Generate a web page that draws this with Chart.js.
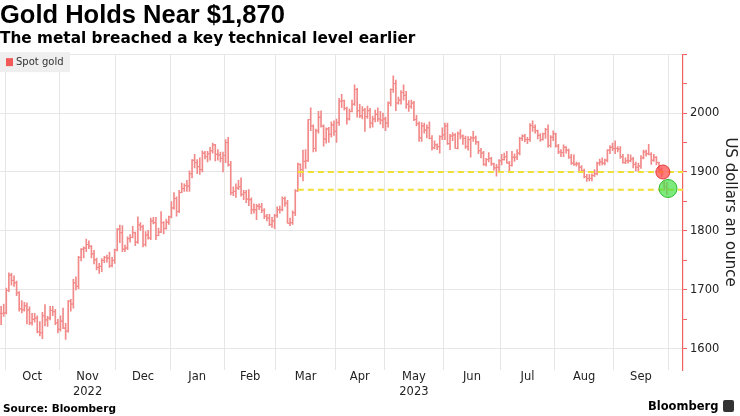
<!DOCTYPE html>
<html>
<head>
<meta charset="utf-8">
<script src="https://cdn.jsdelivr.net/npm/chart.js@4.4.0/dist/chart.umd.min.js"></script>
<style>
  html, body { margin: 0; padding: 0; background: #fff; }
  #wrap { position: relative; width: 740px; height: 416px; }
  #chartBox { position: absolute; left: 0; top: 0; width: 740px; height: 416px; }
  .source { position: absolute; left: 3px; top: 401px; font: bold 10.5px 'DejaVu Sans', sans-serif; line-height: 14px; color: #000; }
  .brand { position: absolute; left: 648px; top: 399px; font: bold 11.5px 'DejaVu Sans', sans-serif; line-height: 14px; color: #000; }
  .brand i { position: absolute; left: 75px; top: 1px; width: 11px; height: 12px; background: #333; border-radius: 2px; }
</style>
</head>
<body>
<div id="wrap">
  <div id="chartBox"><canvas id="goldChart"></canvas></div>
  <div class="source">Source: Bloomberg</div>
  <div class="brand">Bloomberg<i></i></div>
</div>
<script>
// trading days, first bar is 28 Sep 2022 (index -3), 3 Oct 2022 is index 0
const firstIndex = -3;
const seriesName = 'Spot gold';
const monthLabels = ['Oct', 'Nov', 'Dec', 'Jan', 'Feb', 'Mar', 'Apr', 'May', 'Jun', 'Jul', 'Aug', 'Sep'];
const yearLabels  = ['', '2022', '', '', '', '', '', '2023', '', '', '', ''];
const tradingDays = [21, 22, 21, 21, 20, 23, 19, 23, 22, 21, 23, 21];
const yTickValues = [1600, 1650, 1700, 1750, 1800, 1850, 1900, 1950, 2000, 2050, 2100];

const open = [
  1628, 1660, 1660,
  1661, 1699, 1725, 1716, 1712, 1695, 1668, 1666, 1673, 1666, 1644, 1650, 1652, 1629, 1627, 1656, 1649, 1652, 1665, 1663, 1644,
  1633, 1647, 1635, 1630, 1681, 1676, 1712, 1706, 1755, 1769, 1771, 1777, 1774, 1761, 1751, 1738, 1740, 1750, 1755, 1754, 1741, 1750,
  1768, 1803, 1797, 1769, 1771, 1787, 1789, 1797, 1781, 1810, 1807, 1777, 1793, 1788, 1817, 1814, 1792, 1798, 1814, 1804, 1815,
  1824, 1839, 1855, 1833, 1865, 1872, 1877, 1876, 1897, 1920, 1916, 1909, 1904, 1932, 1926, 1931, 1936, 1946, 1930, 1929, 1923,
  1928, 1950, 1912, 1865, 1867, 1873, 1875, 1862, 1865, 1854, 1853, 1836, 1836, 1842, 1841, 1835, 1825, 1822, 1811, 1817,
  1826, 1836, 1836, 1855, 1847, 1813, 1814, 1831, 1868, 1913, 1904, 1918, 1919, 1989, 1978, 1940, 1970, 1993, 1978, 1956, 1973, 1964, 1980,
  1969, 1984, 2020, 2021, 2008, 1990, 2003, 2015, 2040, 2004, 1995, 2005, 1994, 2004, 1983, 1990, 1998, 1990, 1988,
  1990, 1983, 2017, 2040, 2050, 2017, 2022, 2035, 2030, 2015, 2011, 2017, 1989, 1982, 1958, 1978, 1971, 1975, 1957, 1941, 1946, 1943, 1960,
  1963, 1978, 1948, 1961, 1963, 1940, 1965, 1961, 1957, 1943, 1955, 1958, 1958, 1951, 1936, 1932, 1913, 1921, 1923, 1914, 1907, 1908,
  1919, 1921, 1926, 1915, 1911, 1925, 1925, 1932, 1957, 1961, 1955, 1955, 1979, 1976, 1970, 1962, 1955, 1965, 1972, 1945, 1959,
  1965, 1944, 1934, 1933, 1942, 1937, 1925, 1915, 1913, 1914, 1908, 1902, 1892, 1889, 1889, 1894, 1897, 1915, 1917, 1915, 1920, 1937, 1942,
  1940, 1940, 1939, 1926, 1916, 1919, 1919, 1922, 1913, 1908, 1910, 1924, 1934, 1931, 1930, 1920, 1925, 1916, 1903, 1880, 1875
];
const high = [
  1661, 1672, 1676,
  1703, 1729, 1728, 1724, 1715, 1697, 1682, 1679, 1678, 1671, 1660, 1660, 1656, 1646, 1662, 1675, 1655, 1672, 1672, 1667, 1650,
  1656, 1669, 1643, 1682, 1684, 1718, 1722, 1757, 1770, 1773, 1786, 1783, 1775, 1767, 1754, 1745, 1753, 1757, 1759, 1764, 1755, 1769,
  1804, 1810, 1809, 1776, 1790, 1794, 1808, 1798, 1824, 1814, 1810, 1799, 1801, 1822, 1823, 1823, 1805, 1833, 1816, 1820, 1825,
  1850, 1865, 1858, 1869, 1881, 1880, 1886, 1902, 1921, 1930, 1921, 1924, 1936, 1935, 1935, 1942, 1949, 1947, 1938, 1934, 1934,
  1955, 1959, 1918, 1875, 1880, 1886, 1890, 1869, 1869, 1870, 1856, 1846, 1845, 1846, 1847, 1838, 1828, 1828, 1823, 1828,
  1841, 1842, 1858, 1858, 1852, 1822, 1834, 1870, 1915, 1914, 1937, 1938, 1989, 2009, 1980, 1973, 2003, 2004, 1980, 1975, 1976, 1985, 1987,
  1990, 2025, 2032, 2022, 2010, 2007, 2022, 2048, 2042, 2015, 2011, 2008, 2012, 2008, 1995, 2005, 2009, 2003, 2000,
  1993, 2019, 2041, 2063, 2056, 2027, 2038, 2048, 2037, 2021, 2022, 2020, 1996, 1985, 1984, 1983, 1980, 1985, 1962, 1953, 1948, 1962, 1975,
  1983, 1983, 1964, 1967, 1965, 1968, 1972, 1963, 1961, 1960, 1960, 1969, 1961, 1952, 1940, 1935, 1923, 1933, 1925, 1915, 1913, 1921,
  1930, 1932, 1935, 1918, 1935, 1931, 1938, 1959, 1963, 1964, 1959, 1982, 1987, 1980, 1971, 1965, 1966, 1974, 1980, 1962, 1970,
  1966, 1947, 1938, 1946, 1943, 1939, 1930, 1929, 1917, 1916, 1911, 1905, 1896, 1896, 1897, 1904, 1917, 1922, 1924, 1922, 1938, 1945, 1949,
  1953, 1943, 1943, 1930, 1924, 1930, 1929, 1925, 1917, 1915, 1928, 1937, 1937, 1947, 1933, 1930, 1926, 1917, 1907, 1885, 1882
];
const low = [
  1615, 1641, 1655,
  1659, 1697, 1708, 1706, 1690, 1664, 1661, 1664, 1642, 1641, 1640, 1645, 1627, 1622, 1617, 1639, 1638, 1649, 1656, 1641, 1627,
  1630, 1634, 1616, 1628, 1664, 1669, 1700, 1702, 1749, 1754, 1765, 1770, 1754, 1744, 1734, 1728, 1731, 1746, 1747, 1738, 1739, 1745,
  1766, 1780, 1765, 1765, 1768, 1781, 1788, 1775, 1779, 1801, 1773, 1774, 1786, 1785, 1812, 1785, 1792, 1797, 1795, 1803, 1811,
  1822, 1837, 1825, 1831, 1865, 1867, 1867, 1867, 1890, 1907, 1897, 1896, 1900, 1922, 1917, 1920, 1932, 1919, 1920, 1917, 1900,
  1916, 1910, 1861, 1860, 1857, 1870, 1859, 1853, 1848, 1843, 1829, 1830, 1819, 1836, 1831, 1821, 1817, 1809, 1806, 1804,
  1823, 1830, 1834, 1842, 1813, 1809, 1811, 1826, 1867, 1892, 1885, 1906, 1918, 1970, 1934, 1935, 1966, 1976, 1944, 1949, 1950, 1959, 1962,
  1950, 1979, 2009, 2005, 1981, 1988, 2002, 2013, 1993, 1992, 1990, 1969, 1991, 1975, 1976, 1985, 1986, 1981, 1975,
  1970, 1976, 2012, 2035, 2004, 2015, 2015, 2022, 2008, 2003, 2008, 1987, 1978, 1952, 1952, 1966, 1958, 1956, 1937, 1939, 1938, 1932, 1955,
  1955, 1947, 1938, 1953, 1940, 1939, 1956, 1947, 1940, 1937, 1925, 1952, 1947, 1931, 1924, 1911, 1910, 1917, 1911, 1903, 1893, 1902,
  1912, 1920, 1915, 1901, 1910, 1918, 1921, 1929, 1953, 1951, 1948, 1952, 1969, 1966, 1956, 1952, 1954, 1957, 1942, 1942, 1953,
  1942, 1931, 1926, 1926, 1932, 1923, 1913, 1911, 1910, 1902, 1900, 1890, 1884, 1885, 1885, 1892, 1895, 1911, 1912, 1912, 1917, 1931, 1936,
  1931, 1934, 1923, 1915, 1914, 1915, 1917, 1907, 1902, 1901, 1906, 1922, 1927, 1929, 1913, 1918, 1912, 1900, 1892, 1869, 1862
];
const close = [
  1660, 1660, 1661,
  1699, 1725, 1716, 1712, 1695, 1668, 1666, 1673, 1666, 1644, 1650, 1652, 1629, 1627, 1656, 1649, 1652, 1665, 1663, 1644, 1633,
  1647, 1635, 1630, 1681, 1676, 1712, 1706, 1755, 1769, 1771, 1777, 1774, 1761, 1751, 1738, 1740, 1750, 1755, 1754, 1741, 1750, 1768,
  1803, 1797, 1769, 1771, 1787, 1789, 1797, 1781, 1810, 1807, 1777, 1793, 1788, 1817, 1814, 1792, 1798, 1814, 1804, 1815, 1824,
  1839, 1855, 1833, 1865, 1872, 1877, 1876, 1897, 1920, 1916, 1909, 1904, 1932, 1926, 1931, 1936, 1946, 1930, 1929, 1923, 1928,
  1950, 1912, 1865, 1867, 1873, 1875, 1862, 1865, 1854, 1853, 1836, 1836, 1842, 1841, 1835, 1825, 1822, 1811, 1817, 1826,
  1836, 1836, 1855, 1847, 1813, 1814, 1831, 1868, 1913, 1904, 1918, 1919, 1989, 1978, 1940, 1970, 1993, 1978, 1956, 1973, 1964, 1980, 1969,
  1984, 2020, 2021, 2008, 1990, 2003, 2015, 2040, 2004, 1995, 2005, 1994, 2004, 1983, 1990, 1998, 1990, 1988, 1990,
  1983, 2017, 2040, 2050, 2017, 2022, 2035, 2030, 2015, 2011, 2017, 1989, 1982, 1958, 1978, 1971, 1975, 1957, 1941, 1946, 1943, 1960, 1963,
  1978, 1948, 1961, 1963, 1940, 1965, 1961, 1957, 1943, 1955, 1958, 1958, 1951, 1936, 1932, 1913, 1921, 1923, 1914, 1907, 1908, 1919,
  1921, 1926, 1915, 1911, 1925, 1925, 1932, 1957, 1961, 1955, 1955, 1979, 1976, 1970, 1962, 1955, 1965, 1972, 1945, 1959, 1965,
  1944, 1934, 1933, 1942, 1937, 1925, 1915, 1913, 1914, 1908, 1902, 1892, 1889, 1889, 1894, 1897, 1915, 1917, 1915, 1920, 1937, 1942, 1940,
  1940, 1939, 1926, 1916, 1919, 1919, 1922, 1913, 1908, 1910, 1924, 1934, 1931, 1930, 1920, 1925, 1916, 1903, 1896, 1875, 1872
];

// technical levels (dashed) and the two highlighted spots
const levels = [1900, 1870];
const levelStart = 113;            // 13 Mar 2023
const markerX = [254.5, 256.5];
const markerY = [1900, 1872];
const markerFill   = ['rgba(255,70,70,0.7)', 'rgba(70,225,70,0.7)'];
const markerBorder = ['#e23b3b', '#2fb82f'];
const markerRadius = [7, 9];

const xMin = -2.44, xMax = 262.3;
const barColor = '#f28a8a';
const gridColor = '#e6e6e6';
const axisRed = '#f06060';

const idx = close.map((_, i) => i + firstIndex);

// month grid lines at the boundaries, month names in the middle
const xTicks = [];
let start = 0;
tradingDays.forEach((n, m) => {
  xTicks.push({ value: start - 0.5, label: '', grid: true });
  xTicks.push({ value: start - 0.5 + n / 2, label: yearLabels[m] ? [monthLabels[m], yearLabels[m]] : monthLabels[m], grid: false });
  start += n;
});
xTicks.push({ value: start - 0.5, label: '', grid: true });

const legendBox = {
  id: 'legendBox',
  afterDraw(chart) {
    const { ctx, chartArea } = chart;
    ctx.save();
    ctx.fillStyle = '#efefef';
    ctx.fillRect(chartArea.left, chartArea.top - 2, 70, 20);
    ctx.fillStyle = '#f25a5a';
    ctx.fillRect(chartArea.left + 6, chartArea.top + 4, 7, 8);
    ctx.fillStyle = '#333';
    ctx.font = '10px "DejaVu Sans"';
    ctx.textBaseline = 'middle';
    ctx.fillText(seriesName, chartArea.left + 16, chartArea.top + 8.5);
    ctx.restore();
  }
};

const markerSets = markerX.map((x, i) => ({
  type: 'line',
  data: [{ x, y: markerY[i] }],
  showLine: false,
  pointRadius: markerRadius[i],
  pointBackgroundColor: markerFill[i],
  pointBorderColor: markerBorder[i],
  pointBorderWidth: 1
}));

const levelSets = levels.map(v => ({
  type: 'line',
  data: [{ x: levelStart, y: v }, { x: xMax, y: v }],
  borderColor: '#efe032',
  borderWidth: 2,
  borderDash: [6, 4],
  pointRadius: 0
}));

new Chart(document.getElementById('goldChart'), {
  type: 'bar',
  data: {
    datasets: [
      ...markerSets,
      ...levelSets,
      {
        type: 'line',
        data: idx.map((x, i) => ({ x: x - 0.4, y: open[i] })),
        showLine: false,
        pointStyle: 'line',
        pointRadius: 1,
        pointBorderWidth: 1,
        pointBorderColor: barColor
      },
      {
        type: 'line',
        data: idx.map((x, i) => ({ x: x + 0.4, y: close[i] })),
        showLine: false,
        pointStyle: 'line',
        pointRadius: 1,
        pointBorderWidth: 1,
        pointBorderColor: barColor
      },
      {
        label: seriesName,
        data: idx.map((x, i) => ({ x, y: [low[i], high[i]] })),
        backgroundColor: barColor,
        borderWidth: 0,
        barThickness: 1
      }
    ]
  },
  options: {
    responsive: true,
    maintainAspectRatio: false,
    animation: false,
    events: [],
    layout: { padding: 0, autoPadding: false },
    plugins: {
      legend: { display: false },
      tooltip: { enabled: false },
      title: {
        display: true,
        text: 'Gold Holds Near $1,870',
        align: 'start',
        color: '#000',
        font: { family: 'Liberation Sans', size: 25.5, weight: 'bold', lineHeight: 1.05 },
        padding: { top: 3, bottom: 0 }
      },
      subtitle: {
        display: true,
        text: 'The metal breached a key technical level earlier',
        align: 'start',
        color: '#000',
        font: { family: 'DejaVu Sans', size: 15.3, weight: 'bold', lineHeight: 1.2 },
        padding: { top: 0, bottom: 6 }
      }
    },
    scales: {
      x: {
        type: 'linear',
        min: xMin,
        max: xMax,
        offset: false,
        afterBuildTicks: s => { s.ticks = xTicks.map(t => ({ value: t.value })); },
        afterFit: s => { s.height = 46; },
        border: { display: false },
        grid: {
          offset: false,
          drawTicks: false,
          color: ctx => (xTicks[ctx.index] && xTicks[ctx.index].grid ? gridColor : 'rgba(0,0,0,0)')
        },
        ticks: {
          autoSkip: false,
          maxRotation: 0,
          minRotation: 0,
          padding: -1,
          color: '#222',
          font: { family: 'DejaVu Sans', size: 11.5, lineHeight: 1.35 },
          callback: (v, i) => (xTicks[i] ? xTicks[i].label : '')
        }
      },
      y: {
        position: 'right',
        min: 1564,
        max: 2100,
        beginAtZero: false,
        afterBuildTicks: s => { s.ticks = yTickValues.map(v => ({ value: v })); },
        afterFit: s => { s.width = 57; },
        border: { display: true, color: axisRed, width: 1.2 },
        grid: {
          color: ctx => (ctx.tick && ctx.tick.value % 100 === 0 ? gridColor : 'rgba(0,0,0,0)'),
          tickColor: axisRed,
          tickLength: 4
        },
        ticks: {
          autoSkip: false,
          padding: 3,
          color: '#222',
          font: { family: 'DejaVu Sans', size: 11.5 },
          callback: v => (v % 100 === 0 && v < 2100 ? v : '')
        },
        title: {
          display: true,
          text: 'US dollars an ounce',
          color: '#222',
          font: { family: 'DejaVu Sans', size: 15 },
          padding: { top: 1, bottom: 0 }
        }
      }
    }
  },
  plugins: [legendBox]
});
</script>
</body>
</html>
